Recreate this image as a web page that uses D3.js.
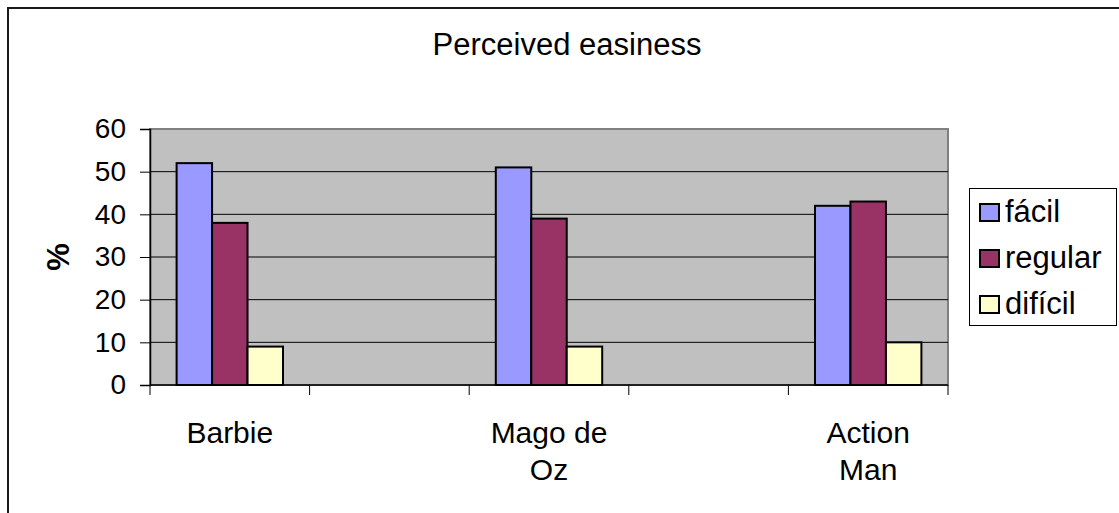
<!DOCTYPE html>
<html>

<head>
    <script src="https://cdnjs.cloudflare.com/ajax/libs/d3/7.8.5/d3.min.js"></script>
    <style>
        body {
            margin: 0;
            background: #fff;
        }

        text {
            font-family: 'Liberation Sans', Arial, sans-serif;
            fill: #000;
        }
    </style>
</head>

<body>
    <script>
        // categories as in the sheet: two blank slots between the toys
        const categories = ["Barbie", "", "Mago de Oz", "", "Action Man"]
        const categoryLines = [["Barbie"], [], ["Mago de", "Oz"], [], ["Action", "Man"]]
        const seriesNames = ["fácil", "regular", "difícil"]
        const facil = [52, null, 51, null, 42]
        const regular = [38, null, 39, null, 43]
        const dificil = [9, null, 9, null, 10]
        const yTicks = [0, 10, 20, 30, 40, 50, 60]
        const colors = ["#9999ff", "#993366", "#ffffcc"]

        const w = 1119
        const h = 513
        const plotLeft = 150, plotRight = 948, plotTop = 129, plotBottom = 385

        const svg = d3.select("body")
            .append("svg")
            .attr("width", w)
            .attr("height", h)

        // outer chart border (cut off on right/bottom in the picture)
        svg.append("rect")
            .attr("x", 8)
            .attr("y", 8)
            .attr("width", 1300)
            .attr("height", 700)
            .attr("fill", "#fff")
            .attr("stroke", "#1a1a1a")
            .attr("stroke-width", 2)

        const x = d3.scaleBand()
            .domain(d3.range(categories.length))
            .range([plotLeft, plotRight])
            .padding(0)

        const xs = d3.scaleBand()
            .domain(seriesNames)
            .range([0, x.bandwidth()])
            .paddingInner(0)
            .paddingOuter(0.75)

        const y = d3.scaleLinear()
            .domain([0, 60])
            .range([plotBottom, plotTop])

        // plot area
        svg.append("rect")
            .attr("x", plotLeft)
            .attr("y", plotTop)
            .attr("width", plotRight - plotLeft)
            .attr("height", plotBottom - plotTop)
            .attr("fill", "#c0c0c0")
            .attr("stroke", "#808080")
            .attr("stroke-width", 2)

        // gridlines
        svg.append("g")
            .selectAll("line")
            .data(yTicks.filter(d => d > 0 && d < 60))
            .enter()
            .append("line")
            .attr("x1", plotLeft)
            .attr("x2", plotRight)
            .attr("y1", d => y(d))
            .attr("y2", d => y(d))
            .attr("stroke", "#000")
            .attr("stroke-width", 1)

        // y axis
        const yAxis = svg.append("g")
            .attr("transform", `translate(${plotLeft},0)`)
            .call(d3.axisLeft(y).tickValues(yTicks).tickSize(10).tickPadding(14))
        yAxis.select(".domain").attr("stroke", "#000").attr("stroke-width", 1.5)
        yAxis.selectAll(".tick line").attr("stroke", "#000")
        yAxis.selectAll(".tick text")
            .attr("font-size", 28)
            .attr("font-family", "'Liberation Sans', Arial, sans-serif")
            .attr("fill", "#000")

        // x axis: ticks at category boundaries
        const bounds = d3.range(categories.length + 1).map(i => i < categories.length ? x(i) : plotRight)
        svg.append("line")
            .attr("x1", plotLeft).attr("x2", plotRight)
            .attr("y1", plotBottom).attr("y2", plotBottom)
            .attr("stroke", "#000").attr("stroke-width", 1.5)
        svg.append("g")
            .selectAll("line")
            .data(bounds)
            .enter()
            .append("line")
            .attr("x1", d => d).attr("x2", d => d)
            .attr("y1", plotBottom).attr("y2", plotBottom + 10)
            .attr("stroke", "#000")

        const xl = svg.append("g")
            .selectAll("text")
            .data(categoryLines)
            .enter()
            .append("text")
            .attr("text-anchor", "middle")
            .attr("font-size", 30)
            .attr("x", (d, i) => x(i) + x.bandwidth() / 2)
            .attr("y", 443)
        xl.selectAll("tspan")
            .data(d => d)
            .enter()
            .append("tspan")
            .attr("x", function () { return d3.select(this.parentNode).attr("x") })
            .attr("dy", (d, i) => i === 0 ? 0 : 37)
            .text(d => d)

        // bars
        const seriesValues = [facil, regular, dificil]
        seriesNames.forEach((name, si) => {
            svg.append("g")
                .selectAll("rect")
                .data(seriesValues[si].map((v, i) => ({ i: i, v: v })).filter(d => d.v !== null))
                .enter()
                .append("rect")
                .attr("x", d => x(d.i) + xs(name))
                .attr("y", d => y(d.v))
                .attr("width", xs.bandwidth())
                .attr("height", d => plotBottom - y(d.v))
                .attr("fill", colors[si])
                .attr("stroke", "#000")
                .attr("stroke-width", 2)
        })

        // title
        svg.append("text")
            .attr("x", 567)
            .attr("y", 55)
            .attr("text-anchor", "middle")
            .attr("font-size", 31)
            .text("Perceived easiness")

        // y axis label
        svg.append("text")
            .attr("transform", "translate(69,257) rotate(-90)")
            .attr("text-anchor", "middle")
            .attr("font-size", 31)
            .attr("font-weight", "bold")
            .text("%")

        // legend
        const legend = svg.append("g")
        legend.append("rect")
            .attr("x", 969.5)
            .attr("y", 188.5)
            .attr("width", 147)
            .attr("height", 137)
            .attr("fill", "#fff")
            .attr("stroke", "#000")
            .attr("stroke-width", 1)

        const items = legend.selectAll("g.item")
            .data(seriesNames)
            .enter()
            .append("g")
            .attr("class", "item")
            .attr("transform", (d, i) => `translate(980,${222 + i * 46})`)
        items.append("rect")
            .attr("x", 0)
            .attr("y", -18)
            .attr("width", 19)
            .attr("height", 17)
            .attr("fill", (d, i) => colors[i])
            .attr("stroke", "#000")
            .attr("stroke-width", 2)
        items.append("text")
            .attr("x", 25)
            .attr("y", 0)
            .attr("font-size", 31)
            .text(d => d)
    </script>
</body>

</html>
